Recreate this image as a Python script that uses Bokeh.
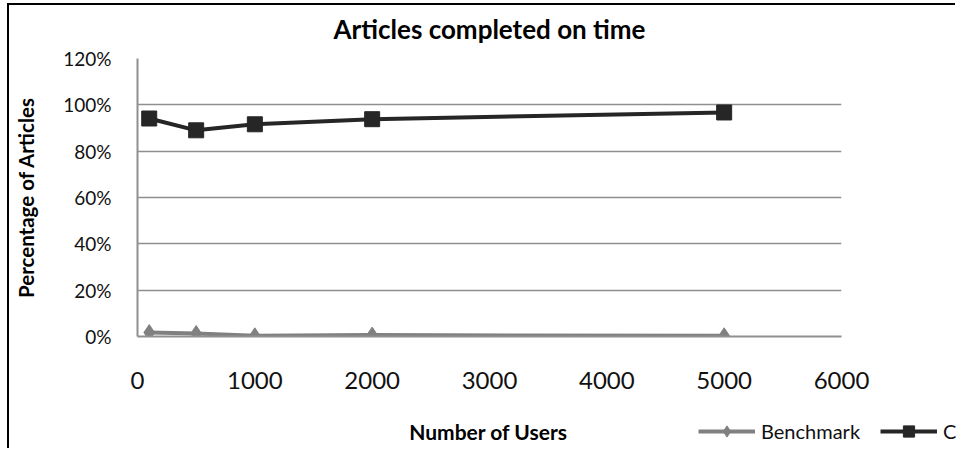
from bokeh.plotting import figure
from bokeh.layouts import column
from bokeh.models import Range1d, FixedTicker, NumeralTickFormatter, Legend, LegendItem, Label
from bokeh.embed import file_html
from bokeh.resources import INLINE

# ---- data ----
users = [100, 500, 1000, 2000, 5000]
benchmark = [0.017, 0.013, 0.003, 0.006, 0.003]
cloud = [0.941, 0.890, 0.916, 0.938, 0.967]
series_names = ["Benchmark", "Cloud"]
x_ticks = [0, 1000, 2000, 3000, 4000, 5000, 6000]
y_ticks = [0.0, 0.2, 0.4, 0.6, 0.8, 1.0, 1.2]
title_text = "Articles completed on time"
x_label = "Number of Users"
y_label = "Percentage of Articles"

FONT = "Lato"
GRID = "#8f8f8f"
BENCH_C = "#808080"
CLOUD_C = "#262626"
W = 948


def strip(height, styles):
    f = figure(width=W, height=height, output_backend="svg", toolbar_location=None,
               x_range=Range1d(0, 1), y_range=Range1d(0, 1),
               x_axis_type=None, y_axis_type=None,
               min_border_left=0, min_border_right=0, min_border_top=0, min_border_bottom=0)
    f.frame_align = False
    f.styles = styles
    f.outline_line_color = None
    f.background_fill_color = "white"
    f.border_fill_color = "white"
    return f


def draw_series(fig):
    r1 = fig.line(users, benchmark, line_color=BENCH_C, line_width=4)
    r2 = fig.scatter(users, benchmark, marker="diamond", size=16,
                     fill_color=BENCH_C, line_color=BENCH_C)
    r3 = fig.line(users, cloud, line_color=CLOUD_C, line_width=4)
    r4 = fig.scatter(users, cloud, marker="square", size=15,
                     fill_color=CLOUD_C, line_color=CLOUD_C)
    return r1, r2, r3, r4


# ---- top strip: chart title ----
t = strip(40, {"border-left": "2px solid black", "border-top": "2px solid black",
               "margin-left": "7px", "margin-top": "3px"})
t.add_layout(Label(x=480, y=17, x_units="screen", y_units="screen", text=title_text,
                   text_align="center", text_baseline="middle",
                   text_font=FONT, text_font_size="26px", text_font_style="bold",
                   text_color="black"))

# ---- main chart ----
p = figure(width=W, height=355, output_backend="svg", toolbar_location=None,
           x_range=Range1d(0, 6000), y_range=Range1d(0, 1.2),
           min_border_left=128, min_border_right=116, min_border_top=15, min_border_bottom=62)
p.frame_align = False
p.styles = {"border-left": "2px solid black", "margin-left": "7px"}

p.outline_line_color = None
p.background_fill_color = "white"
p.border_fill_color = "white"

p.xgrid.grid_line_color = None
p.ygrid.ticker = FixedTicker(ticks=y_ticks)
p.ygrid.grid_line_color = GRID
p.ygrid.grid_line_width = 1.5

p.xaxis.ticker = FixedTicker(ticks=x_ticks)
p.yaxis.ticker = FixedTicker(ticks=y_ticks)
p.yaxis.formatter = NumeralTickFormatter(format="0%")

for ax in (p.xaxis, p.yaxis):
    ax.axis_line_color = GRID
    ax.axis_line_width = 2
    ax.major_tick_line_color = None
    ax.minor_tick_line_color = None
    ax.major_label_text_font = FONT
    ax.major_label_text_color = "#111111"
    ax.axis_label_text_font = FONT
    ax.axis_label_text_font_style = "bold"
    ax.axis_label_text_color = "black"

p.xaxis.major_label_text_font_size = "24px"
p.xaxis.major_label_standoff = 29

p.yaxis.major_label_text_font_size = "19px"
p.yaxis.major_label_standoff = 20
p.yaxis.axis_label = y_label
p.yaxis.axis_label_text_font_size = "20.5px"
p.yaxis.axis_label_standoff = 22

draw_series(p)

# ---- bottom strip: x-axis title and legend ----
b = strip(50, {"border-left": "2px solid black", "margin-left": "7px"})

# same series, outside this strip's 0..1 range: they only feed the legend swatches
lb1, mb1, lb2, mb2 = draw_series(b)

legend = Legend(items=[LegendItem(label=series_names[0], renderers=[lb1, mb1]),
                       LegendItem(label=series_names[1], renderers=[lb2, mb2])],
                orientation="horizontal", location=(689, 3),
                padding=0, margin=0, spacing=20,
                glyph_width=57, glyph_height=28, label_standoff=6,
                label_text_font=FONT, label_text_font_size="20px",
                label_text_color="#111111",
                border_line_alpha=0, background_fill_alpha=0)
b.add_layout(legend)

b.add_layout(Label(x=479, y=17, x_units="screen", y_units="screen", text=x_label,
                   text_align="center", text_baseline="middle",
                   text_font=FONT, text_font_size="21px", text_font_style="bold",
                   text_color="black"))

open("out.html", "w").write(file_html(column(t, p, b, spacing=0), INLINE))
